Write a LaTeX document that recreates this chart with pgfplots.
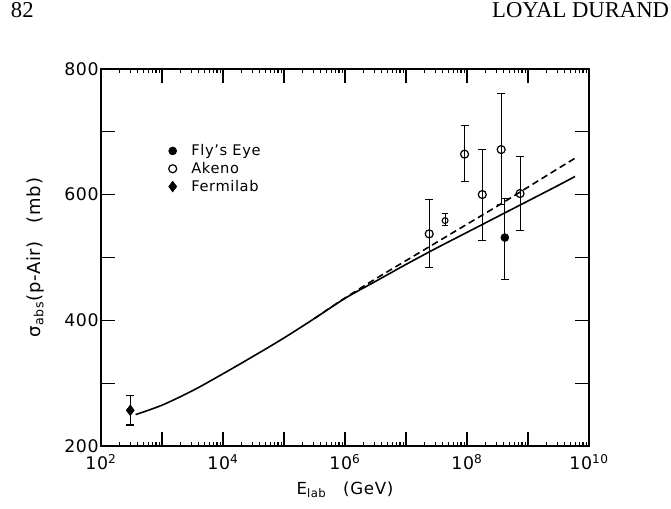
\documentclass[border=0pt]{standalone}
\usepackage{fontspec}
\setmainfont{DejaVu Sans}[LetterSpace=4]
\newfontfamily\headfont{Liberation Serif}
\usepackage{pgfplots}
\pgfplotsset{compat=1.18}

% measured values: log-energy axis, absorption cross section in mb
\pgfplotstableread{
x       y      ep     em
2.40e7  537.6  55.2   53.6
9.12e7  664.5  46.2   43.6
1.78e8  600.2  72.3   73.8
3.63e8  671.8  89.2   86.9
7.41e8  601.8  58.4   59.4
}\akeno
\pgfplotstableread{
x       y      ep     em
4.17e8  531.7  61.6   66.3
}\flyseye
\pgfplotstableread{
x       y      ep     em
3.02e2  256.8  23.2   23.4
}\fermilab
\pgfplotstableread{
x       y      ep     em
4.37e7  558.8  12.0   7.0
}\extra

\newcommand\tp[1]{10\textsuperscript{#1}}

\begin{document}
\begin{tikzpicture}
\useasboundingbox (0,0) rectangle (503.25pt,381pt);
\node[anchor=base west, inner sep=0pt, font=\headfont\fontsize{17}{17}\selectfont] at (8pt,368pt) {82};
\node[anchor=base east, inner sep=0pt, font=\headfont\fontsize{17}{17}\selectfont] at (502pt,368pt) {LOYAL DURAND};
\begin{axis}[
  at={(75.75pt,46.5pt)}, anchor=south west,
  scale only axis, width=366pt, height=282.75pt,
  xmode=log, xmin=1e2, xmax=1e10, ymin=200, ymax=800,
  xtick={1e2,1e3,1e4,1e5,1e6,1e7,1e8,1e9,1e10},
  xticklabels={\tp{2},,\tp{4},,\tp{6},,\tp{8},,\tp{10}},
  ytick={200,300,400,500,600,700,800},
  yticklabels={200,,400,,600,,800},
  tick align=inside, major tick length=10.5pt,
  minor tick num=0, log ticks with fixed point=false,
  every tick/.style={line width=0.9pt, black},
  axis line style={line width=1pt},
  tick label style={font=\fontsize{13}{15}\selectfont},
  yticklabel style={inner sep=1.5pt},
  xticklabel style={yshift=-3pt},
  /pgf/number format/assume math mode=true,
  xlabel={E\textsubscript{lab}\quad(GeV)},
  ylabel={σ\textsubscript{abs}(p-Air)\quad(mb)},
  xlabel style={font=\fontsize{12.5}{14}\selectfont, yshift=-2pt},
  ylabel style={font=\fontsize{13.5}{15}\selectfont, yshift=10pt},
  legend style={draw=none, fill=none, at={(0.13,0.815)}, anchor=north west,
    font=\fontsize{11}{12}\selectfont, row sep=-0.5pt,
    legend cell align=left,
    /tikz/every odd column/.append style={column sep=9pt}},
  error bars/error bar style={line width=0.8pt},
  error bars/error mark options={rotate=90, mark size=3pt, line width=0.8pt},
]
% model curves: solid and dashed
\addplot[line width=1.2pt, smooth, forget plot] coordinates {
 (3.7e2,250) (1e3,265) (3.16e3,288) (1e4,315) (3.16e4,343) (1e5,372)
 (3.16e5,403) (1e6,435) (3.16e6,462) (1e7,489) (3.16e7,515) (1e8,540)
 (3.16e8,565) (1e9,590) (3.16e9,615) (5.9e9,629)};
\addplot[line width=1.2pt, smooth, dash pattern=on 5pt off 3pt, forget plot] coordinates {
 (3.16e5,403) (1e6,435.5) (3.16e6,466) (1e7,495) (3.16e7,524) (1e8,553)
 (3.16e8,582) (1e9,612) (3.16e9,642) (5.9e9,658)};
\addplot[only marks, mark=*, mark size=3pt, black,
  error bars/.cd, y dir=both, y explicit]
  table[y error plus=ep, y error minus=em] {\flyseye};
\addlegendentry{Fly's Eye}
\addplot[only marks, mark=o, mark size=3pt, black, mark options={fill=white, line width=0.9pt},
  error bars/.cd, y dir=both, y explicit]
  table[y error plus=ep, y error minus=em] {\akeno};
\addlegendentry{Akeno}
\addplot[only marks, mark=diamond*, mark size=4pt, black,
  error bars/.cd, y dir=both, y explicit]
  table[y error plus=ep, y error minus=em] {\fermilab};
\addlegendentry{Fermilab}
\addplot[only marks, mark=o, mark size=2.2pt, black, forget plot, mark options={fill=white, line width=0.8pt},
  error bars/.cd, y dir=both, y explicit, error mark options={rotate=90, mark size=2pt}]
  table[y error plus=ep, y error minus=em] {\extra};
\end{axis}
\end{tikzpicture}
\end{document}
